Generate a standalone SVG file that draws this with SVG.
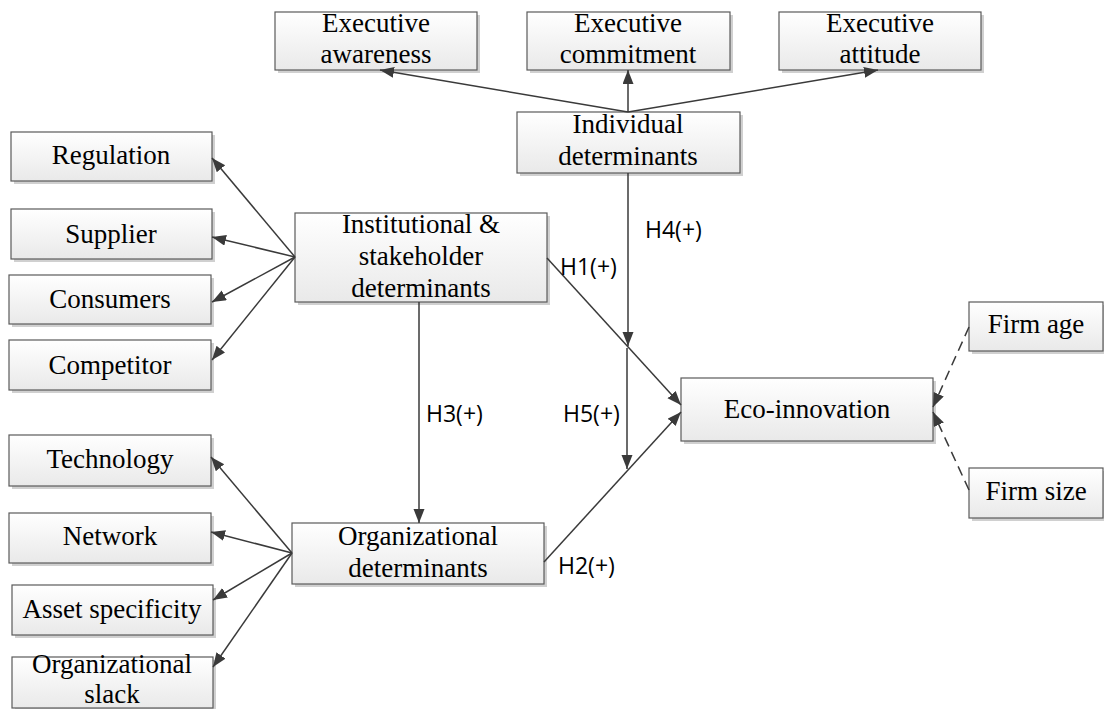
<svg xmlns="http://www.w3.org/2000/svg" width="1104" height="709" viewBox="0 0 1104 709">
<defs>
<linearGradient id="g" x1="0" y1="0" x2="0" y2="1">
<stop offset="0" stop-color="#ffffff"/>
<stop offset="1" stop-color="#e9e9e9"/>
</linearGradient>
<marker id="ah" markerUnits="userSpaceOnUse" markerWidth="16" markerHeight="12" refX="14" refY="5.5" orient="auto">
<path d="M0,0 L14,5.5 L0,11 z" fill="#3a3a3a"/>
</marker>
<style>
.bx{fill:url(#g);stroke:#5a5a5a;stroke-width:1.2}
.sh{fill:#d0d0d0}
.t{font-family:"Liberation Serif","Times New Roman",serif;font-size:27px;fill:#000;text-anchor:middle}
.l{font-family:"Open Sans","Liberation Sans",sans-serif;font-size:23px;fill:#000}
.c{stroke:#3a3a3a;stroke-width:1.5;fill:none;marker-end:url(#ah)}
.d{stroke-dasharray:10,6}
</style>
</defs>
<rect width="1104" height="709" fill="#fff"/>

<g id="exec-awareness"><rect class="sh" x="278" y="15" width="202" height="58"/><rect class="bx" x="275" y="12" width="202" height="58"/><text class="t" x="376" y="32">Executive</text><text class="t" x="376" y="63">awareness</text></g>
<g id="exec-commitment"><rect class="sh" x="530" y="15" width="203" height="58"/><rect class="bx" x="527" y="12" width="203" height="58"/><text class="t" x="628" y="32">Executive</text><text class="t" x="628" y="63">commitment</text></g>
<g id="exec-attitude"><rect class="sh" x="782" y="15" width="202" height="58"/><rect class="bx" x="779" y="12" width="202" height="58"/><text class="t" x="880" y="32">Executive</text><text class="t" x="880" y="63">attitude</text></g>
<g id="individual"><rect class="sh" x="520" y="115" width="223" height="61"/><rect class="bx" x="517" y="112" width="223" height="61"/><text class="t" x="628" y="133">Individual</text><text class="t" x="628" y="165">determinants</text></g>

<g id="regulation"><rect class="sh" x="14" y="135" width="201" height="49"/><rect class="bx" x="11" y="132" width="201" height="49"/><text class="t" x="111" y="164">Regulation</text></g>
<g id="supplier"><rect class="sh" x="14" y="212" width="201" height="50"/><rect class="bx" x="11" y="209" width="201" height="50"/><text class="t" x="111" y="243">Supplier</text></g>
<g id="consumers"><rect class="sh" x="12" y="278" width="202" height="49"/><rect class="bx" x="9" y="275" width="202" height="49"/><text class="t" x="110" y="308">Consumers</text></g>
<g id="competitor"><rect class="sh" x="12" y="343" width="202" height="50"/><rect class="bx" x="9" y="340" width="202" height="50"/><text class="t" x="110" y="374">Competitor</text></g>

<g id="institutional"><rect class="sh" x="298" y="216" width="252" height="89"/><rect class="bx" x="295" y="213" width="252" height="89"/><text class="t" x="421" y="233">Institutional &amp;</text><text class="t" x="421" y="265">stakeholder</text><text class="t" x="421" y="297">determinants</text></g>

<g id="technology"><rect class="sh" x="12" y="438" width="202" height="51"/><rect class="bx" x="9" y="435" width="202" height="51"/><text class="t" x="110" y="468">Technology</text></g>
<g id="network"><rect class="sh" x="12" y="516" width="202" height="50"/><rect class="bx" x="9" y="513" width="202" height="50"/><text class="t" x="110" y="545">Network</text></g>
<g id="asset"><rect class="sh" x="15" y="588" width="201" height="50"/><rect class="bx" x="12" y="585" width="201" height="50"/><text class="t" x="112" y="618">Asset specificity</text></g>
<g id="slack"><rect class="sh" x="15" y="660" width="201" height="51"/><rect class="bx" x="12" y="657" width="201" height="51"/><text class="t" x="112" y="673">Organizational</text><text class="t" x="112" y="703">slack</text></g>

<g id="organizational"><rect class="sh" x="295" y="526" width="252" height="61"/><rect class="bx" x="292" y="523" width="252" height="61"/><text class="t" x="418" y="545">Organizational</text><text class="t" x="418" y="577">determinants</text></g>

<g id="eco"><rect class="sh" x="684" y="381" width="252" height="63"/><rect class="bx" x="681" y="378" width="252" height="63"/><text class="t" x="807" y="418">Eco-innovation</text></g>
<g id="firm-age"><rect class="sh" x="972" y="305" width="134" height="49"/><rect class="bx" x="969" y="302" width="134" height="49"/><text class="t" x="1036" y="333">Firm age</text></g>
<g id="firm-size"><rect class="sh" x="972" y="471" width="134" height="50"/><rect class="bx" x="969" y="468" width="134" height="50"/><text class="t" x="1036" y="500">Firm size</text></g>

<g id="connectors">
<line class="c" x1="628" y1="112" x2="380" y2="70"/>
<line class="c" x1="628" y1="112" x2="628" y2="70"/>
<line class="c" x1="628" y1="112" x2="878" y2="70"/>
<line class="c" x1="295" y1="257" x2="212" y2="158"/>
<line class="c" x1="295" y1="257" x2="212" y2="237"/>
<line class="c" x1="295" y1="257" x2="212" y2="302"/>
<line class="c" x1="295" y1="257" x2="212" y2="360"/>
<line class="c" x1="292" y1="553" x2="211" y2="457"/>
<line class="c" x1="292" y1="553" x2="211" y2="532"/>
<line class="c" x1="292" y1="553" x2="213" y2="600"/>
<line class="c" x1="292" y1="553" x2="213" y2="667"/>
<line class="c" x1="547" y1="258" x2="681" y2="405"/>
<line class="c" x1="544" y1="562" x2="681" y2="412"/>
<line class="c" x1="419" y1="302" x2="419" y2="523"/>
<line class="c" x1="628" y1="173" x2="628" y2="346"/>
<line class="c" x1="627" y1="348" x2="627" y2="469"/>
<line class="c d" x1="969" y1="327" x2="933" y2="407"/>
<line class="c d" x1="969" y1="490" x2="933" y2="412"/>
<text class="l" x="560" y="275">H1(+)</text>
<text class="l" x="645" y="238">H4(+)</text>
<text class="l" x="426" y="422">H3(+)</text>
<text class="l" x="563" y="422">H5(+)</text>
<text class="l" x="558" y="574">H2(+)</text>
</g>
</svg>
